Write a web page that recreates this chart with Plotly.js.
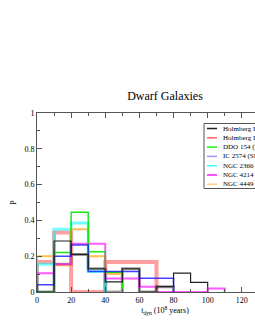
<!DOCTYPE html>
<html><head><meta charset="utf-8">
<script src="https://cdn.plot.ly/plotly-3.0.1.min.js"></script>
<style>html,body{margin:0;padding:0;overflow:hidden;background:#fff;width:255px;height:330px}</style>
</head><body><div id="chart"></div>
<script>
// bin width 10 (10^8 yr), bins start at 0
const binWidth = 10;
const names = ["Holmberg I (THINGS)", "Holmberg II (THINGS)", "DDO 154 (THINGS)", "IC 2574 (SINGS)", "NGC 2366 (THINGS)", "NGC 4214 (THINGS)", "NGC 4449 (THINGS)"];
const holmbergI  = [0, 0.285, 0.21, 0.13, 0.057, 0.13, 0, 0.03, 0.105, 0.054];
const holmbergII = [0.167, 0.333, 0, 0, 0.167, 0.167, 0.167];
const ddo154     = [0, 0.22, 0.445, 0.225, 0.11];
const ic2574     = [0.04, 0.2, 0.263, 0.115, 0.115, 0.115, 0.077, 0.077];
const ngc2366    = [0.155, 0.35, 0.385, 0.115];
const ngc4214    = [0.105, 0.155, 0.27, 0.27, 0.075, 0.075, 0.03, 0, 0, 0, 0.02];
const ngc4449    = [0.2, 0.15, 0.35, 0.2, 0.1];
const extraGray  = [0, 0.155, 0.21, 0.13, 0, 0.13, 0, 0.03];

const xTicks = [0, 20, 40, 60, 80, 100, 120];

function steps(vals) {
  const x = [0], y = [0];
  vals.forEach((v, i) => { x.push(i * binWidth); y.push(v); });
  x.push(vals.length * binWidth); y.push(vals[vals.length - 1]);
  x.push(vals.length * binWidth); y.push(0);
  return {x, y};
}

const series = [
  {vals: holmbergII, color: "rgba(255,40,40,0.45)", width: 4, name: names[1], legColor: "rgba(255,60,60,0.8)"},
  {vals: extraGray, color: "rgba(60,60,60,0.5)", width: 3, name: null},
  {vals: ngc2366, color: "rgba(0,255,255,0.55)", width: 3, name: names[4], legColor: "rgba(0,255,255,0.8)"},
  {vals: ngc4449, color: "rgba(255,170,30,0.75)", width: 2, name: names[6], legColor: "rgba(255,200,120,0.9)"},
  {vals: ngc4214, color: "rgba(255,0,255,0.65)", width: 2, name: names[5], legColor: "rgba(255,0,255,0.9)"},
  {vals: ddo154, color: "rgba(0,230,0,0.9)", width: 1.5, name: names[2], legColor: "rgba(0,240,0,0.9)"},
  {vals: ic2574, color: "rgba(20,20,255,0.8)", width: 1.5, name: names[3], legColor: "rgba(130,130,255,0.8)"},
  {vals: holmbergI, color: "#222", width: 1.2, name: names[0], legColor: "#222"}
];

const traces = series.map(s => {
  const st = steps(s.vals);
  return {type: "scatter", mode: "lines", x: st.x, y: st.y, line: {shape: "hv", color: s.color, width: s.width}, showlegend: false, hoverinfo: "skip"};
});

const W = 300, H = 330, L = 37, R = 7, T = 113, B = 38;
const pw = W - L - R, ph = H - T - B;
const px2x = p => (p - L) / pw;
const py2y = p => (H - B - p) / ph;

// manual legend (entries in the order of names)
const legendOrder = [0, 1, 2, 3, 4, 5, 6];
const shapes = [{type: "rect", xref: "paper", yref: "paper", x0: px2x(204), x1: px2x(298), y0: py2y(188.5), y1: py2y(123.5), line: {color: "#555", width: 1}, fillcolor: "#fff", layer: "above"}];
const annotations = [];
legendOrder.forEach((k, i) => {
  const s = series.find(q => q.name === names[k]);
  const yy = py2y(128.5 + i * 9.3);
  shapes.push({type: "line", xref: "paper", yref: "paper", x0: px2x(207), x1: px2x(217), y0: yy, y1: yy, line: {color: s.legColor, width: 1.5}, layer: "above"});
  annotations.push({xref: "paper", yref: "paper", x: px2x(221), y: yy, xanchor: "left", yanchor: "middle", text: names[k], showarrow: false, font: {family: "Liberation Serif", size: 7, color: "#000"}});
});

const layout = {
  width: W, height: H,
  margin: {l: L, r: R, t: T, b: B},
  paper_bgcolor: "#fff", plot_bgcolor: "#fff",
  font: {family: "Liberation Serif", size: 8, color: "#000"},
  title: {text: "Dwarf Galaxies", font: {family: "Liberation Serif", size: 12, color: "#000"}, x: 0.5, xref: "paper", xanchor: "center", y: 1 - 96 / H, yref: "container", yanchor: "middle"},
  xaxis: {range: [0, 150], tickvals: xTicks, ticktext: xTicks.map(String), ticks: "inside", ticklen: 5, tickcolor: "#555", tickwidth: 1,
          minor: {dtick: 10, ticks: "inside", ticklen: 3, tickcolor: "#555"},
          showline: true, linecolor: "#555", linewidth: 1, mirror: "ticks", showgrid: false, zeroline: false,
          tickfont: {family: "Liberation Serif", size: 8}, title: {text: "t<sub>dyn</sub> (10<sup>8</sup> years)", font: {family: "Liberation Serif", size: 8}, standoff: 2}},
  yaxis: {range: [0, 1], dtick: 0.2, ticks: "inside", ticklen: 5, tickcolor: "#555", tickwidth: 1,
          minor: {dtick: 0.1, ticks: "inside", ticklen: 3, tickcolor: "#555"},
          showline: true, linecolor: "#555", linewidth: 1, mirror: "ticks", showgrid: false, zeroline: false,
          tickfont: {family: "Liberation Serif", size: 8}, title: {text: "P", font: {family: "Liberation Serif", size: 8}, standoff: 6}},
  showlegend: false,
  shapes: shapes, annotations: annotations
};

Plotly.newPlot("chart", traces, layout, {staticPlot: true, displayModeBar: false});
</script></body></html>
